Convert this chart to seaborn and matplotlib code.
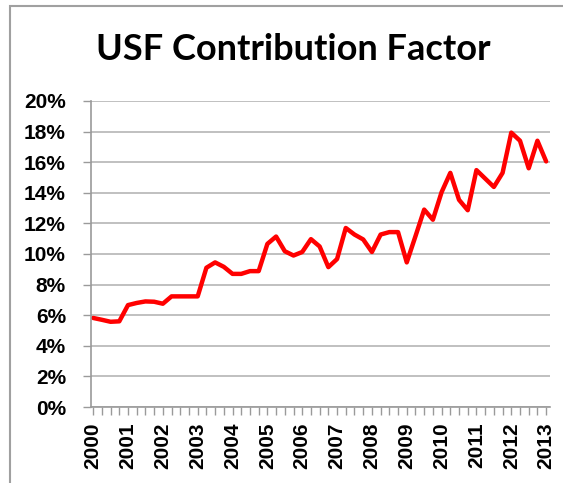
import matplotlib
matplotlib.use("Agg")
import matplotlib.pyplot as plt
import matplotlib.ticker as mticker
from matplotlib.patches import Rectangle
import numpy as np
import pandas as pd
import seaborn as sns

# dane kwartalne 2000 Q1 - 2013 Q1
years = [str(y) for y in range(2000, 2014)]
usf_factor = [
    5.82, 5.70, 5.57, 5.60,     # 2000
    6.66, 6.80, 6.90, 6.88,     # 2001
    6.75, 7.23, 7.23, 7.23,     # 2002
    7.23, 9.10, 9.45, 9.16,     # 2003
    8.70, 8.70, 8.88, 8.88,     # 2004
    10.66, 11.14, 10.18, 9.90,  # 2005
    10.13, 10.97, 10.49, 9.14,  # 2006
    9.67, 11.70, 11.27, 10.95,  # 2007
    10.13, 11.27, 11.43, 11.43, # 2008
    9.45, 11.16, 12.90, 12.24,  # 2009
    14.04, 15.30, 13.54, 12.86, # 2010
    15.48, 14.93, 14.38, 15.30, # 2011
    17.93, 17.40, 15.60, 17.40, # 2012
    16.05,                      # 2013
]
y_ticks = [0, 2, 4, 6, 8, 10, 12, 14, 16, 18, 20]

df = pd.DataFrame({"quarter": np.arange(len(usf_factor)),
                   "factor": np.array(usf_factor) / 100})

GRID_COL = "#b5b5b5"
AXIS_COL = "#9a9a9a"
TEXT_COL = "black"

sns.set_style("white")
plt.rcParams["font.family"] = ["Liberation Sans", "DejaVu Sans"]

fig = plt.figure(figsize=(5.63, 4.83), dpi=100)
ax = fig.add_axes([0.1616, 0.1573, 0.8154, 0.6337])

sns.lineplot(data=df, x="quarter", y="factor", ax=ax,
             color="#ff0000", linewidth=3.2)

ax.set_ylim(0, 0.20)
ax.set_xlim(-0.25, len(usf_factor) - 1 + 0.45)
ax.yaxis.set_major_locator(mticker.FixedLocator([v / 100 for v in y_ticks]))
ax.yaxis.set_major_formatter(mticker.FuncFormatter(lambda v, _: f"{v*100:.0f}%"))
ax.grid(axis="y", color=GRID_COL, linewidth=1.2)
ax.set_axisbelow(True)

ax.set_xticks(np.arange(0, len(usf_factor), 4))
ax.set_xticklabels(years, rotation=90)
ax.set_xticks(np.arange(len(usf_factor)), minor=True)

ax.tick_params(axis="y", which="major", direction="out", length=6,
               width=1, color=AXIS_COL, left=True, labelsize=15, pad=12)
ax.tick_params(axis="x", which="both", direction="out", length=6,
               width=1, color=AXIS_COL, bottom=True, labelsize=15, pad=5)
for lab in ax.get_xticklabels() + ax.get_yticklabels():
    lab.set_fontweight("bold")
    lab.set_color(TEXT_COL)

for side in ["top", "right"]:
    ax.spines[side].set_visible(False)
for side in ["left", "bottom"]:
    ax.spines[side].set_color(AXIS_COL)
    ax.spines[side].set_linewidth(1.2)

ax.set_xlabel("")
ax.set_ylabel("")

fig.text(0.52, 0.897, "USF Contribution Factor", ha="center", va="center",
         fontsize=26, fontweight="bold", color=TEXT_COL,
         family=["Lato", "DejaVu Sans"])

# ramka wykresu (przycięta z prawej i od dołu)
fig.patches.append(Rectangle((10 / 563, -0.1), 1.2, 1.1 - 5.7 / 483,
                             transform=fig.transFigure, fill=False,
                             edgecolor="#a0a0a0", linewidth=1.5))

fig.savefig("out.png", dpi=100, facecolor="white")
